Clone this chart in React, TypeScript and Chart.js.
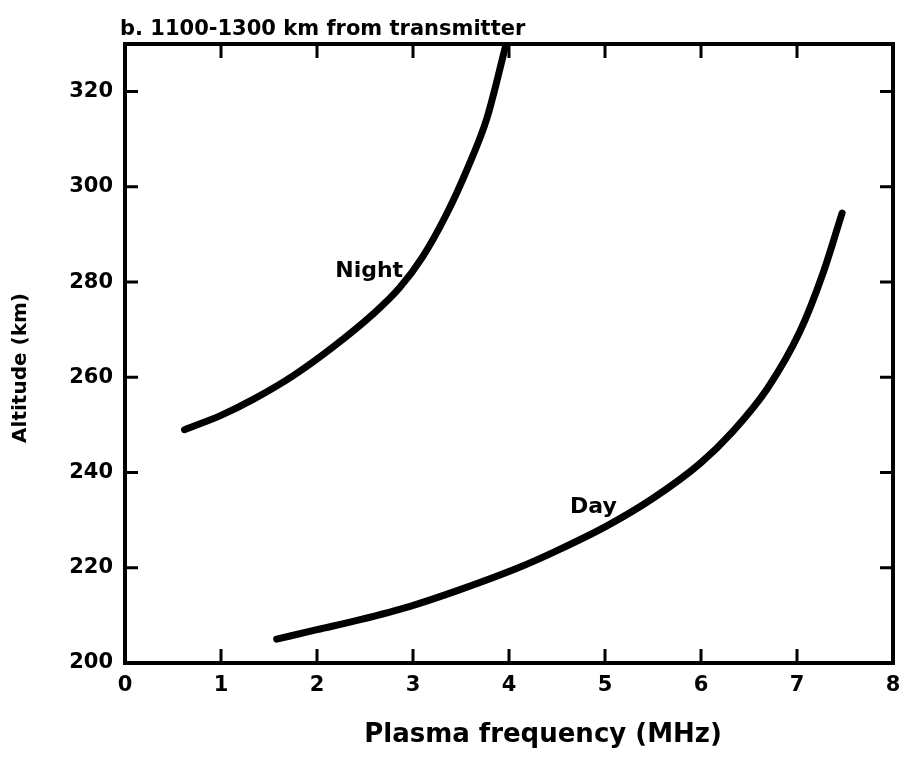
import React, { useEffect, useRef } from "react";
import { Chart, registerables } from "chart.js";

Chart.register(...registerables);

// ---- data ----
const nightFreq = [0.62, 1.0, 1.33, 1.75, 2.17, 2.58, 2.86, 3.1, 3.35, 3.57, 3.77, 3.97];
const nightAlt = [249, 252.0, 255.3, 260.3, 266.4, 273.2, 278.8, 285.3, 294.3, 304.0, 314.4, 330];
const dayFreq = [1.58, 2.0, 2.45, 2.97, 3.49, 4.11, 4.5, 5.02, 5.5, 5.99, 6.33, 6.69, 7.03, 7.27, 7.47];
const dayAlt = [205, 207, 209.1, 211.9, 215.4, 220.1, 223.6, 228.8, 234.6, 241.9, 248.6, 257.6, 269.6, 281.8, 294.5];
const xTicks = [0, 1, 2, 3, 4, 5, 6, 7, 8];
const yTicks = [200, 220, 240, 260, 280, 300, 320];
const xRange = [0, 8];
const yRange = [200, 330];
const chartTitle = "b. 1100-1300 km from transmitter";
const xTitle = "Plasma frequency (MHz)";
const yTitle = "Altitude (km)";
const curveNames = ["Night", "Day"];
const curveNameX = [2.19, 4.635];
const curveNameY = [281, 231.6];

const FONT = "'DejaVu Sans', sans-serif";

const framePlugin = {
  id: "frameAndText",
  afterDraw(chart: any) {
    const { ctx, chartArea } = chart;
    const { left, right, top, bottom } = chartArea;
    const xs = chart.scales.x;
    const ys = chart.scales.y;
    ctx.save();
    ctx.strokeStyle = "#000";
    ctx.lineCap = "butt";
    // inside ticks
    ctx.lineWidth = 3;
    xTicks.forEach((v) => {
      if (v === xRange[0] || v === xRange[1]) return;
      const px = xs.getPixelForValue(v);
      ctx.beginPath();
      ctx.moveTo(px, bottom);
      ctx.lineTo(px, bottom - 14);
      ctx.moveTo(px, top);
      ctx.lineTo(px, top + 14);
      ctx.stroke();
    });
    yTicks.forEach((v) => {
      if (v === yRange[0] || v === yRange[1]) return;
      const py = ys.getPixelForValue(v);
      ctx.beginPath();
      ctx.moveTo(left, py);
      ctx.lineTo(left + 13, py);
      ctx.moveTo(right, py);
      ctx.lineTo(right - 13, py);
      ctx.stroke();
    });
    // frame
    ctx.lineWidth = 4;
    ctx.strokeRect(left, top, right - left, bottom - top);

    ctx.fillStyle = "#000";
    // curve labels
    ctx.font = `bold 22px ${FONT}`;
    ctx.textAlign = "left";
    ctx.textBaseline = "alphabetic";
    curveNames.forEach((t, i) => {
      ctx.fillText(t, xs.getPixelForValue(curveNameX[i]), ys.getPixelForValue(curveNameY[i]));
    });
    // chart title
    ctx.font = `bold 21px ${FONT}`;
    ctx.fillText(chartTitle, left - 5, top - 9);
    // x title
    ctx.font = `bold 26px ${FONT}`;
    ctx.textAlign = "center";
    ctx.fillText(xTitle, left + 418, bottom + 79);
    // y title
    ctx.font = `bold 20px ${FONT}`;
    ctx.translate(left - 104, top + 324);
    ctx.rotate(-Math.PI / 2);
    ctx.textBaseline = "middle";
    ctx.fillText(yTitle, 0, 0);
    ctx.restore();
  },
};

export default function App() {
  const ref = useRef<HTMLCanvasElement | null>(null);
  useEffect(() => {
    if (!ref.current) return;
    const chart = new Chart(ref.current, {
      type: "line",
      data: {
        datasets: [
          {
            label: curveNames[0],
            data: nightFreq.map((x, i) => ({ x, y: nightAlt[i] })),
            borderColor: "#000",
            borderWidth: 7,
            pointRadius: 0,
            cubicInterpolationMode: "monotone",
            borderCapStyle: "round",
            fill: false,
          },
          {
            label: curveNames[1],
            data: dayFreq.map((x, i) => ({ x, y: dayAlt[i] })),
            borderColor: "#000",
            borderWidth: 7,
            pointRadius: 0,
            cubicInterpolationMode: "monotone",
            borderCapStyle: "round",
            fill: false,
          },
        ],
      },
      options: {
        animation: false,
        responsive: true,
        maintainAspectRatio: false,
        layout: { padding: { top: 44, right: 9, bottom: 0, left: 0 } },
        plugins: {
          legend: { display: false },
          tooltip: { enabled: false },
          title: { display: false },
        },
        scales: {
          x: {
            type: "linear",
            position: "bottom",
            min: xRange[0],
            max: xRange[1],
            grid: { display: false, drawTicks: false },
            border: { display: false },
            afterBuildTicks: (s: any) => {
              s.ticks = xTicks.map((v) => ({ value: v }));
            },
            afterFit: (s: any) => {
              s.height = 105;
              s.paddingLeft = 0;
              s.paddingRight = 0;
            },
            ticks: {
              padding: 10,
              color: "#000",
              font: { family: FONT, size: 21, weight: "bold" },
              callback: (v: any) => String(v),
            },
          },
          y: {
            type: "linear",
            position: "left",
            min: yRange[0],
            max: yRange[1],
            grid: { display: false, drawTicks: false },
            border: { display: false },
            afterBuildTicks: (s: any) => {
              s.ticks = yTicks.map((v) => ({ value: v }));
            },
            afterFit: (s: any) => {
              s.width = 125;
              s.paddingTop = 0;
              s.paddingBottom = 0;
            },
            ticks: {
              padding: 12,
              color: "#000",
              font: { family: FONT, size: 21, weight: "bold" },
              callback: (v: any) => String(v),
            },
          },
        },
      },
      plugins: [framePlugin],
    } as any);
    return () => chart.destroy();
  }, []);
  return (
    <div
      style={{
        position: "fixed",
        left: 0,
        top: 0,
        width: 902,
        height: 768,
        overflow: "hidden",
        background: "#fff",
      }}
    >
      <canvas ref={ref} style={{ display: "block" }} />
    </div>
  );
}
